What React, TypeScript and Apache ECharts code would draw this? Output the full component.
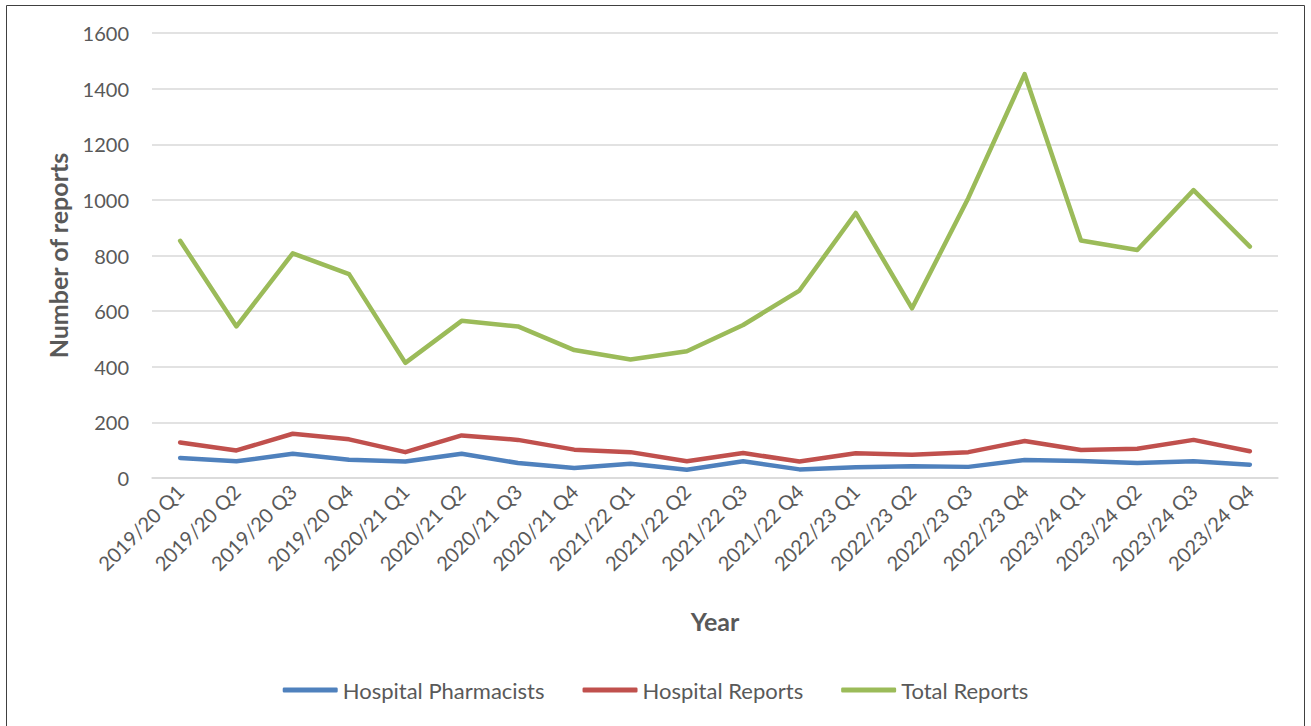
import React, { useEffect, useRef } from "react";
import * as echarts from "echarts";

const categories = [
  "2019/20 Q1", "2019/20 Q2", "2019/20 Q3", "2019/20 Q4",
  "2020/21 Q1", "2020/21 Q2", "2020/21 Q3", "2020/21 Q4",
  "2021/22 Q1", "2021/22 Q2", "2021/22 Q3", "2021/22 Q4",
  "2022/23 Q1", "2022/23 Q2", "2022/23 Q3", "2022/23 Q4",
  "2023/24 Q1", "2023/24 Q2", "2023/24 Q3", "2023/24 Q4",
];

const hospitalPharmacists = [72, 60, 87, 66, 59, 87, 54, 36, 51, 30, 60, 31, 39, 42, 40, 65, 61, 54, 60, 48];
const hospitalReports = [128, 99, 159, 139, 93, 153, 137, 102, 93, 60, 90, 59, 89, 84, 93, 133, 101, 105, 137, 96];
const totalReports = [853, 545, 808, 733, 414, 565, 545, 460, 426, 456, 550, 674, 953, 610, 1007, 1452, 854, 820, 1035, 832];

const FONT = "Lato";
const TEXT = "#595959";

export default function App() {
  const ref = useRef<HTMLDivElement>(null);
  useEffect(() => {
    if (!ref.current) return;
    const chart = echarts.init(ref.current, undefined, { renderer: "svg" });
    const mk = (name: string, data: number[], color: string) => ({
      name,
      type: "line",
      data,
      symbol: "none",
      lineStyle: { width: 4.5, color, cap: "round", join: "round" },
      itemStyle: { color },
    });
    chart.setOption({
      animation: false,
      backgroundColor: "#ffffff",
      textStyle: { fontFamily: FONT },
      graphic: [
        {
          type: "rect",
          shape: { x: 6.5, y: 5.5, width: 1298, height: 740 },
          style: { fill: "none", stroke: "#404040", lineWidth: 1 },
          silent: true,
        },
      ],
      grid: { left: 152, right: 33, top: 33, bottom: 248, containLabel: false },
      legend: {
        bottom: 20,
        left: "center",
        itemWidth: 55,
        itemHeight: 5,
        itemGap: 38,
        icon: "roundRect",
        textStyle: { color: TEXT, fontSize: 22, fontFamily: FONT },
        data: ["Hospital Pharmacists", "Hospital Reports", "Total Reports"],
      },
      xAxis: {
        type: "category",
        data: categories,
        boundaryGap: true,
        name: "Year",
        nameLocation: "middle",
        nameGap: 130,
        nameTextStyle: { color: TEXT, fontSize: 25, fontWeight: "bold", fontFamily: FONT },
        axisLine: { show: true, lineStyle: { color: "#d9d9d9", width: 1.5 } },
        axisTick: { show: false },
        axisLabel: { rotate: 45, color: TEXT, fontSize: 20, margin: 10, interval: 0, fontFamily: FONT },
      },
      yAxis: {
        type: "value",
        min: 0,
        max: 1600,
        interval: 200,
        name: "Number of reports",
        nameLocation: "middle",
        nameGap: 82,
        nameTextStyle: { color: TEXT, fontSize: 25, fontWeight: "bold", fontFamily: FONT },
        axisLine: { show: false },
        axisTick: { show: false },
        axisLabel: {
          color: TEXT,
          fontSize: 20,
          margin: 23,
          fontFamily: FONT,
          formatter: (v: number) => String(v),
        },
        splitLine: { lineStyle: { color: "#d9d9d9", width: 1.5 } },
      },
      series: [
        mk("Hospital Pharmacists", hospitalPharmacists, "#4F81BD"),
        mk("Hospital Reports", hospitalReports, "#C0504D"),
        mk("Total Reports", totalReports, "#9BBB59"),
      ],
    });
    return () => chart.dispose();
  }, []);
  return (
    <div
      ref={ref}
      style={{ position: "absolute", left: 0, top: 0, width: 1311, height: 726 }}
    />
  );
}
